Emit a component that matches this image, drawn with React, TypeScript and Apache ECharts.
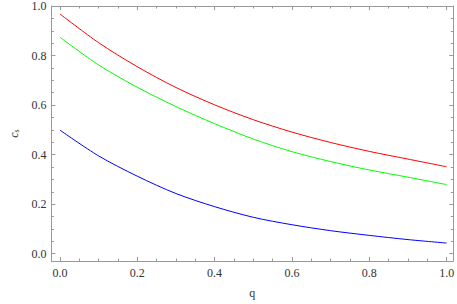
import React, { useEffect, useRef } from "react";
import * as echarts from "echarts";

const qValues = [0, 0.1, 0.2, 0.3, 0.4, 0.5, 0.6, 0.7, 0.8, 0.9, 1.0];
const redValues = [0.968, 0.852, 0.755, 0.671, 0.601, 0.541, 0.491, 0.449, 0.413, 0.382, 0.351];
const greenValues = [0.874, 0.762, 0.672, 0.594, 0.525, 0.463, 0.412, 0.372, 0.338, 0.309, 0.279];
const blueValues = [0.499, 0.395, 0.313, 0.243, 0.19, 0.147, 0.117, 0.093, 0.074, 0.057, 0.043];

const majorTicks = [0, 0.2, 0.4, 0.6, 0.8, 1.0];
const minorTicks = Array.from({ length: 21 }, (_, i) => +(i * 0.05).toFixed(2));

const FRAME = "#999999";
const FONT = "Times New Roman";
const TEXT = "#333333";

function tickAxis(position: string, values: number[], len: number, withLine: boolean, labels: boolean, isY: boolean) {
  const ax: any = {
    type: "value",
    position,
    min: isY ? -0.0294 : -0.022,
    max: isY ? 1.0 : 1.017,
    axisLine: { show: withLine, onZero: false, lineStyle: { color: FRAME, width: 1 } },
    axisTick: { show: true, inside: true, length: len, customValues: values, lineStyle: { color: FRAME, width: 1 } },
    axisLabel: labels
      ? {
          show: true,
          customValues: majorTicks,
          formatter: (v: number) => v.toFixed(1),
          color: TEXT,
          fontFamily: FONT,
          fontSize: 12,
          margin: isY ? 5 : 6,
        }
      : { show: false },
    splitLine: { show: false },
  };
  return ax;
}

export default function App() {
  const ref = useRef<HTMLDivElement>(null);
  useEffect(() => {
    document.body.style.margin = "0";
    const chart = echarts.init(ref.current!, null, { renderer: "svg" });
    const mk = (vals: number[]) => qValues.map((q, i) => [q, vals[i]]);
    const xMain = tickAxis("bottom", majorTicks, 4, true, true, false);
    xMain.name = "q";
    xMain.nameLocation = "middle";
    xMain.nameGap = 26;
    xMain.nameTextStyle = { fontFamily: FONT, fontSize: 12, color: TEXT };
    const yMain = tickAxis("left", majorTicks, 4, true, true, true);
    yMain.name = "{a|c}{b|s}";
    yMain.nameLocation = "middle";
    yMain.nameGap = 29;
    yMain.nameTextStyle = {
      fontFamily: FONT,
      color: TEXT,
      rich: {
        a: { fontFamily: FONT, fontStyle: "italic", fontSize: 12, color: TEXT },
        b: { fontFamily: FONT, fontSize: 8, color: TEXT, padding: [5, 0, 0, 0] },
      },
    };
    chart.setOption({
      animation: false,
      backgroundColor: "#ffffff",
      textStyle: { fontFamily: FONT },
      grid: { left: 40, right: 2, top: 6, bottom: 42, containLabel: false },
      xAxis: [
        xMain,
        tickAxis("bottom", minorTicks, 2.5, false, false, false),
        tickAxis("top", majorTicks, 4, true, false, false),
        tickAxis("top", minorTicks, 2.5, false, false, false),
      ],
      yAxis: [
        yMain,
        tickAxis("left", minorTicks, 2.5, false, false, true),
        tickAxis("right", majorTicks, 4, true, false, true),
        tickAxis("right", minorTicks, 2.5, false, false, true),
      ],
      series: [
        { type: "line", data: mk(redValues), color: "#ff0000" },
        { type: "line", data: mk(greenValues), color: "#00ff00" },
        { type: "line", data: mk(blueValues), color: "#0000ff" },
      ].map((s) => ({
        ...s,
        xAxisIndex: 0,
        yAxisIndex: 0,
        showSymbol: false,
        smooth: 0.3,
        lineStyle: { width: 1, color: s.color },
      })),
    });
    return () => chart.dispose();
  }, []);
  return <div ref={ref} style={{ width: 457, height: 304 }} />;
}
